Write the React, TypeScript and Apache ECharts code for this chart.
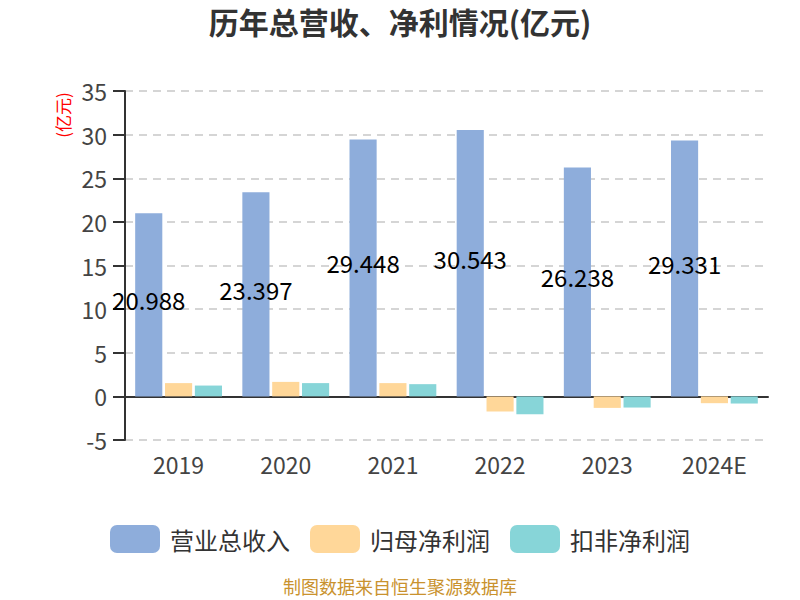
import { useEffect, useRef } from 'react'
import * as echarts from 'echarts'

const YEARS = ['2019', '2020', '2021', '2022', '2023', '2024E']
const REVENUE = [20.988, 23.397, 29.448, 30.543, 26.238, 29.331]
const NET_PROFIT = [1.52, 1.66, 1.52, -1.74, -1.32, -0.78]
const DEDUCTED_PROFIT = [1.24, 1.52, 1.4, -2.05, -1.28, -0.82]
const SERIES_NAMES = ['营业总收入', '归母净利润', '扣非净利润']
const COLORS = ['#8eaddb', '#ffd799', '#87d5d8']

const FONT = '"Noto Sans CJK SC", "Noto Sans", sans-serif'

export default function App() {
  const elRef = useRef<HTMLDivElement>(null)

  useEffect(() => {
    if (!elRef.current) return
    document.body.style.margin = '0'
    const chart = echarts.init(elRef.current, null, { renderer: 'svg' })
    chart.setOption({
      animation: false,
      backgroundColor: '#fff',
      textStyle: { fontFamily: FONT },
      title: {
        text: '历年总营收、净利情况(亿元)',
        left: 'center',
        top: 1,
        textStyle: { fontSize: 30, fontWeight: 'bold', color: '#333', fontFamily: FONT },
      },
      legend: {
        data: SERIES_NAMES,
        top: 520,
        left: 'center',
        itemWidth: 50,
        itemHeight: 28,
        itemGap: 20,
        icon: 'roundRect',
        textStyle: { fontSize: 24, color: '#333', fontFamily: FONT, padding: [0, 0, 0, 5] },
      },
      graphic: [
        {
          type: 'text',
          x: 62,
          y: 115,
          rotation: Math.PI / 2,
          style: {
            text: '(亿元)',
            fill: '#ff0000',
            fontSize: 17,
            fontFamily: FONT,
            textAlign: 'center',
            textVerticalAlign: 'middle',
          },
        },
        {
          type: 'text',
          left: 'center',
          top: 577,
          style: {
            text: '制图数据来自恒生聚源数据库',
            fill: '#c9922e',
            fontSize: 18,
            fontFamily: FONT,
          },
        },
      ],
      grid: { left: 125, right: 32, top: 91, bottom: 160 },
      xAxis: {
        type: 'category',
        data: YEARS,
        axisLine: { onZero: true, lineStyle: { color: '#333', width: 2 } },
        axisTick: { length: 9, lineStyle: { color: '#333', width: 2 } },
        axisLabel: {
          fontSize: 23,
          color: '#444',
          margin: 12,
          fontFamily: FONT,
        },
      },
      yAxis: {
        type: 'value',
        min: -5,
        max: 35,
        interval: 5,
        axisLine: { show: true, lineStyle: { color: '#333', width: 2 } },
        axisTick: { show: true, length: 12, lineStyle: { color: '#333', width: 2 } },
        axisLabel: { fontSize: 23, color: '#444', margin: 18, fontFamily: FONT },
        splitLine: { lineStyle: { color: '#c8c8c8', type: [8, 6], width: 1.5 } },
      },
      series: [
        {
          name: SERIES_NAMES[0],
          type: 'bar',
          data: REVENUE,
          barGap: '10%',
          barCategoryGap: '19%',
          itemStyle: { color: COLORS[0] },
          label: {
            show: true,
            position: 'inside',
            offset: [0, -5],
            color: '#000',
            fontSize: 24,
            fontFamily: FONT,
          },
        },
        {
          name: SERIES_NAMES[1],
          type: 'bar',
          data: NET_PROFIT,
          barGap: '10%',
          barCategoryGap: '19%',
          itemStyle: { color: COLORS[1] },
        },
        {
          name: SERIES_NAMES[2],
          type: 'bar',
          data: DEDUCTED_PROFIT,
          barGap: '10%',
          barCategoryGap: '19%',
          itemStyle: { color: COLORS[2] },
        },
      ],
    })
    return () => chart.dispose()
  }, [])

  return <div ref={elRef} style={{ width: 800, height: 600 }} />
}
